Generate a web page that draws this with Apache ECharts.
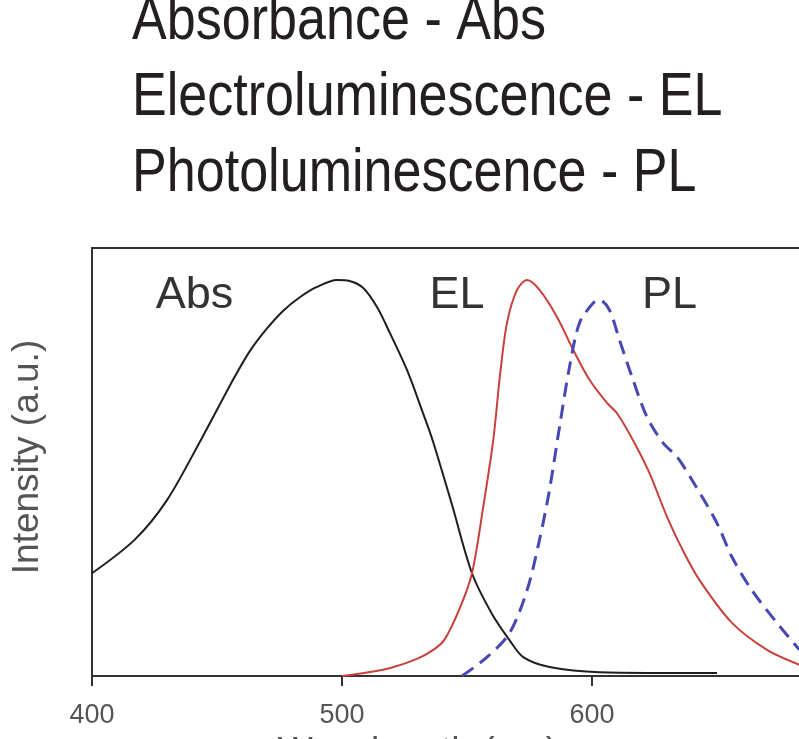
<!DOCTYPE html>
<html lang="en">
<head>
    <meta charset="UTF-8">
    <title>Abs / EL / PL</title>
    <script src="https://cdn.jsdelivr.net/npm/echarts@6/dist/echarts.min.js"></script>
    <style>
        html, body { margin: 0; padding: 0; background: #fff; }
        #main { width: 799px; height: 739px; }
    </style>
</head>
<body>
<div id="main"></div>
<script>
// absorbance (black)
var absWl  = [400, 417, 430, 443.5, 456.7, 463, 470, 476.4, 483.4, 490, 498, 503, 508.4, 514, 519.2, 526, 532.4, 536.4, 544, 552, 560, 567, 572.5, 583, 603, 650];
var absInt = [0.24, 0.318, 0.411, 0.551, 0.695, 0.758, 0.812, 0.853, 0.886, 0.909, 0.925, 0.923, 0.907, 0.862, 0.801, 0.715, 0.614, 0.548, 0.40, 0.24, 0.145, 0.084, 0.044, 0.021, 0.009, 0.007];
// electroluminescence (red)
var elWl  = [500, 510, 520, 530, 536.5, 541, 547.3, 552, 556.5, 560.5, 563.3, 566, 570, 574, 579, 586, 592.5, 599, 606, 610, 616.4, 623, 630, 636.3, 643, 656, 670, 683];
var elInt = [0, 0.008, 0.02, 0.04, 0.061, 0.085, 0.161, 0.24, 0.395, 0.551, 0.708, 0.825, 0.902, 0.925, 0.902, 0.839, 0.762, 0.692, 0.638, 0.614, 0.551, 0.474, 0.372, 0.294, 0.224, 0.124, 0.061, 0.026];
// photoluminescence (blue dashed)
var plWl  = [548, 558, 567, 574, 579, 583, 587, 591, 595, 600.4, 603, 607, 611, 616.4, 622, 628.5, 634, 640, 650, 656, 664, 674, 683];
var plInt = [0, 0.044, 0.1, 0.2, 0.318, 0.435, 0.582, 0.722, 0.825, 0.871, 0.879, 0.855, 0.785, 0.692, 0.605, 0.544, 0.512, 0.458, 0.357, 0.278, 0.2, 0.124, 0.061];

var titleLines = ['Absorbance - Abs', 'Electroluminescence - EL', 'Photoluminescence - PL'];
var tagNames = ['Abs', 'EL', 'PL'];
var tagWl = [441, 546, 631];
var tagY = 0.888;

var sans = 'Liberation Sans, Arial, Helvetica, sans-serif';

function zip(xs, ys) {
    var out = [];
    for (var i = 0; i < xs.length; i++) out.push([xs[i], ys[i]]);
    return out;
}

function tag(i) {
    return {
        symbol: 'rect',
        symbolSize: 1,
        itemStyle: { color: 'rgba(0,0,0,0)' },
        label: {
            show: true,
            position: 'inside',
            formatter: tagNames[i],
            fontFamily: sans,
            fontSize: 45,
            color: '#333'
        },
        data: [{ coord: [tagWl[i], tagY] }]
    };
}

var chart = echarts.init(document.getElementById('main'));
var option = {
    animation: false,
    backgroundColor: '#fff',
    // condensed heading: no narrow font installed, so squeeze Liberation Sans
    graphic: [{
        type: 'text',
        x: 132,
        y: -16,
        scaleX: 0.84,
        style: {
            text: titleLines.join('\n'),
            fontFamily: sans,
            fontSize: 62,
            lineHeight: 76,
            fill: '#231f20',
            verticalAlign: 'top'
        }
    }],
    grid: {
        left: 92,
        right: -43,
        top: 248,
        bottom: 63,
        outerBoundsMode: 'none',
        containLabel: false,
        show: true,
        borderColor: '#333',
        borderWidth: 2
    },
    xAxis: {
        type: 'value',
        min: 400,
        max: 700,
        interval: 100,
        name: 'Wavelength (nm)',
        nameLocation: 'middle',
        nameGap: 54,
        nameTextStyle: {
            fontFamily: sans,
            fontSize: 37,
            color: '#555',
            padding: [0, 98, 0, 0]
        },
        axisLine: { show: true, lineStyle: { color: '#333', width: 2 } },
        axisTick: { show: true, length: 10, lineStyle: { color: '#333', width: 2 } },
        axisLabel: {
            margin: 26,
            fontFamily: sans,
            fontSize: 27,
            color: '#555'
        },
        splitLine: { show: false }
    },
    yAxis: {
        type: 'value',
        min: 0,
        max: 1,
        name: 'Intensity (a.u.)',
        nameLocation: 'middle',
        nameGap: 46,
        nameTextStyle: {
            fontFamily: sans,
            fontSize: 37,
            color: '#555',
            padding: [0, 0, 0, 10]
        },
        axisLine: { show: true, lineStyle: { color: '#333', width: 2 } },
        axisTick: { show: false },
        axisLabel: { show: false },
        splitLine: { show: false }
    },
    series: [
        {
            name: 'Abs',
            type: 'line',
            data: zip(absWl, absInt),
            smooth: 0.3,
            symbol: 'none',
            lineStyle: { color: '#1e1e1e', width: 2 },
            markPoint: tag(0)
        },
        {
            name: 'EL',
            type: 'line',
            data: zip(elWl, elInt),
            smooth: 0.3,
            symbol: 'none',
            lineStyle: { color: '#c8403c', width: 2 },
            markPoint: tag(1)
        },
        {
            name: 'PL',
            type: 'line',
            data: zip(plWl, plInt),
            smooth: 0.3,
            symbol: 'none',
            lineStyle: { color: '#4848b4', width: 3, type: [14, 8] },
            markPoint: tag(2)
        }
    ]
};
chart.setOption(option);
</script>
</body>
</html>
